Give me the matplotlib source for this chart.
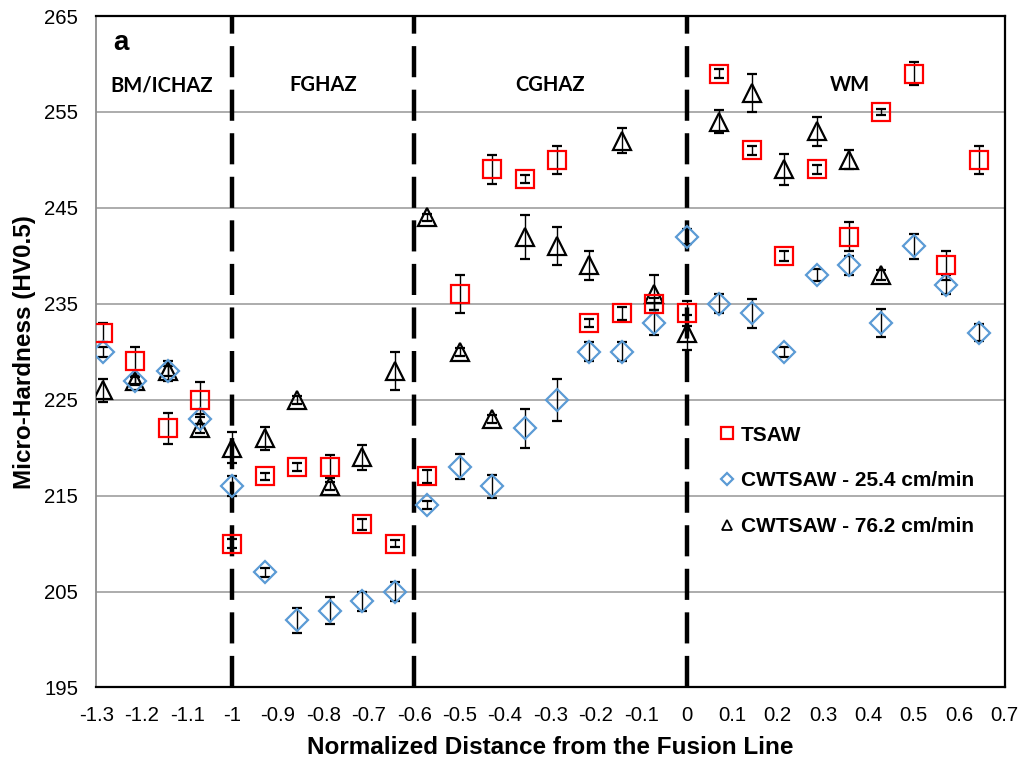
import matplotlib
matplotlib.use("Agg")
import matplotlib.pyplot as plt
from matplotlib.lines import Line2D

# normalized distance from fusion line (shared positions)
distance = [-1.286, -1.214, -1.143, -1.071, -1.0, -0.929, -0.857, -0.786, -0.714, -0.643,
            -0.571, -0.5, -0.429, -0.357, -0.286, -0.214, -0.143, -0.071, 0.0,
            0.071, 0.143, 0.214, 0.286, 0.357, 0.429, 0.5, 0.571, 0.643]

tsaw = [232, 229, 222, 225, 210, 217, 218, 218, 212, 210,
        217, 236, 249, 248, 250, 233, 234, 235, 234,
        259, 251, 240, 249, 242, 255, 259, 239, 250]
tsaw_err = [1.0, 1.5, 1.6, 1.8, 0.5, 0.4, 0.4, 1.2, 0.6, 0.4,
            0.7, 2.0, 1.5, 0.4, 1.5, 0.4, 0.7, 0.6, 1.3,
            0.5, 0.5, 0.5, 0.5, 1.5, 0.3, 1.2, 1.5, 1.5]

cw254 = [230, 227, 228, 223, 216, 207, 202, 203, 204, 205,
         214, 218, 216, 222, 225, 230, 230, 233, 242,
         235, 234, 230, 238, 239, 233, 241, 237, 232]
cw254_err = [0.5, 0.4, 0.5, 0.5, 1.0, 0.5, 1.3, 1.4, 1.0, 1.0,
             0.4, 1.3, 1.2, 2.0, 2.2, 1.0, 1.0, 1.3, 0.8,
             1.0, 1.5, 0.5, 0.6, 1.0, 1.5, 1.3, 1.0, 0.9]

# 76.2 cm/min series stops at 0.429
cw762 = [226, 227, 228, 222, 220, 221, 225, 216, 219, 228,
         244, 230, 223, 242, 241, 239, 252, 236, 232,
         254, 257, 249, 253, 250, 238]
cw762_err = [1.2, 0.5, 1.0, 0.5, 1.6, 1.2, 0.4, 0.4, 1.3, 2.0,
             0.4, 0.4, 0.4, 2.3, 2.0, 1.5, 1.3, 2.0, 1.8,
             1.2, 2.0, 1.6, 1.5, 1.0, 0.5]

zone_bounds = [-1.0, -0.6, 0.0]
zone_names = ["BM/ICHAZ", "FGHAZ", "CGHAZ", "WM"]
zone_centers = [-1.155, -0.8, -0.3, 0.36]

x_ticks = [-1.3, -1.2, -1.1, -1, -0.9, -0.8, -0.7, -0.6, -0.5, -0.4, -0.3, -0.2,
           -0.1, 0, 0.1, 0.2, 0.3, 0.4, 0.5, 0.6, 0.7]
y_ticks = [195, 205, 215, 225, 235, 245, 255, 265]

plt.rcParams['font.family'] = ['Liberation Sans', 'DejaVu Sans']

fig = plt.figure(figsize=(10.24, 7.63), dpi=100)
ax = fig.add_axes([0.094, 0.099, 0.887, 0.880])

for y in y_ticks[1:-1]:
    ax.axhline(y, color='#a6a6a6', lw=1.3, zorder=0)

for xb in zone_bounds:
    ax.axvline(xb, color='black', lw=3.2, dashes=(7.0, 2.8), zorder=1)

err_kw = dict(ecolor='black', elinewidth=1.0, capsize=3.8, capthick=1.0, ls='none')

n762 = len(cw762)
ax.errorbar(distance[:n762], cw762, yerr=cw762_err, marker='^', ms=13.5,
            mfc='none', mec='black', mew=1.6, zorder=3, **err_kw)
ax.errorbar(distance, cw254, yerr=cw254_err, marker='D', ms=11,
            mfc='none', mec='#5b9bd5', mew=1.6, zorder=3, **err_kw)
ax.errorbar(distance, tsaw, yerr=tsaw_err, marker='s', ms=12.5,
            mfc='none', mec='#ff0000', mew=1.6, zorder=3, **err_kw)

ax.set_xlim(-1.3, 0.7)
ax.set_ylim(195, 265)
ax.set_xticks(x_ticks)
ax.set_xticklabels([f"{t:g}" for t in x_ticks])
ax.set_yticks(y_ticks)
ax.tick_params(length=0, labelsize=14.7)
ax.tick_params(axis='x', pad=13)
ax.tick_params(axis='y', pad=13)

for side in ['top', 'right', 'bottom']:
    ax.spines[side].set_color('black')
    ax.spines[side].set_linewidth(1.6)
ax.spines['left'].set_color('#8c8c8c')
ax.spines['left'].set_linewidth(1.3)

ax.set_xlabel("Normalized Distance from the Fusion Line", fontsize=17.5, fontweight='bold', labelpad=8)
ax.set_ylabel("Micro-Hardness (HV0.5)", fontsize=17.5, fontweight='bold', labelpad=6)

for name, xc in zip(zone_names, zone_centers):
    ax.text(xc, 257.8, name, ha='center', va='center', fontsize=14.5,
            fontweight='bold', family=['Lato', 'DejaVu Sans'])
ax.text(-1.262, 262.2, "a", ha='left', va='center', fontsize=20, fontweight='bold')

handles = [
    Line2D([], [], ls='none', marker='s', ms=8, mfc='none', mec='#ff0000', mew=1.6),
    Line2D([], [], ls='none', marker='D', ms=6.5, mfc='none', mec='#5b9bd5', mew=1.6),
    Line2D([], [], ls='none', marker='^', ms=7.5, mfc='none', mec='black', mew=1.3),
]
labels = ["TSAW", "CWTSAW - 25.4 cm/min", "CWTSAW - 76.2 cm/min"]
leg = ax.legend(handles, labels, loc='upper left', bbox_to_anchor=(0.666, 0.418),
                frameon=False, handlelength=0.7, handletextpad=0.3, labelspacing=1.28,
                prop={'weight': 'bold', 'size': 15})

fig.savefig("out.png", dpi=100)
